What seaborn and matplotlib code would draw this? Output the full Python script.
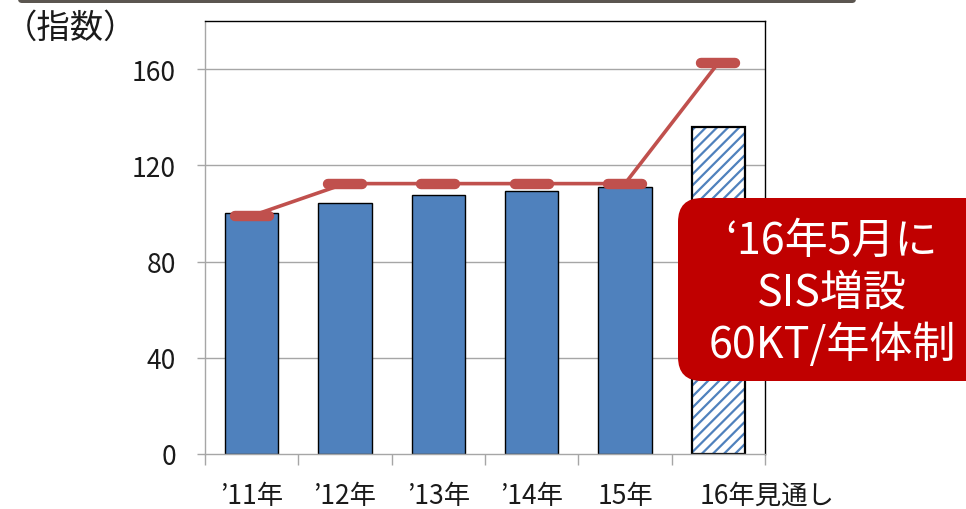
import numpy as np
import pandas as pd
import matplotlib
matplotlib.use("Agg")
import matplotlib.pyplot as plt
import matplotlib.transforms as mtransforms
from matplotlib.patches import FancyBboxPatch
from matplotlib.markers import MarkerStyle
import seaborn as sns

# data
years = ["\u201911年", "\u201912年", "\u201913年", "\u201914年", "15年", "16年見通し"]
output_index = [100, 104.5, 107.5, 109.5, 111, 136]
capacity_index = [99, 112.4, 112.4, 112.4, 112.4, 162.6]
y_ticks = [0, 40, 80, 120, 160]
note_lines = ["\u201816年5月に", "SIS増設", "60KT/年体制"]

sns.set_theme(style="white")
plt.rcParams["font.family"] = ["Noto Sans CJK JP", "DejaVu Sans"]
plt.rcParams["hatch.linewidth"] = 1.6

blue = "#4F81BD"
red = "#C0504D"
grid_gray = "#A6A6A6"

fig = plt.figure(figsize=(9.66, 5.1), dpi=100)
ax = fig.add_axes([205 / 966, 55 / 510, 560 / 966, 433 / 510])

df = pd.DataFrame({"year": years, "value": output_index})
sns.barplot(data=df, x="year", y="value", color=blue, width=0.57,
            edgecolor="black", linewidth=1.0, saturation=1, ax=ax, zorder=3)

# forecast bar: hatched
last = ax.patches[-1]
last.set_facecolor("white")
last.set_edgecolor(blue)
last.set_hatch("///")
last.set_linewidth(0)
ax.add_patch(plt.Rectangle(last.get_xy(), last.get_width(), last.get_height(),
                           fill=False, edgecolor="black", linewidth=1.6, zorder=4))

# capacity line with dash markers
dash = MarkerStyle("_", capstyle="round")
sns.lineplot(x=np.arange(len(years)), y=capacity_index, color=red, linewidth=2.6,
             marker=dash, markersize=24, markeredgewidth=7.5, markeredgecolor=red,
             ax=ax, zorder=5)

ax.set_xlim(-0.5, len(years) - 0.5)
ax.set_ylim(0, 180)
ax.set_yticks(y_ticks)
ax.set_yticklabels([str(v) for v in y_ticks], fontsize=19, color="#1a1a1a")
ax.set_xlabel("")
ax.set_ylabel("")

for v in y_ticks[1:]:
    ax.axhline(v, color=grid_gray, linewidth=1.0, zorder=1)

ax.tick_params(axis="y", which="major", left=True, length=6, width=1.0,
               color=grid_gray, pad=15)
ax.set_xticks(np.arange(len(years)))
ax.set_xticklabels(years, fontsize=19, color="#1a1a1a")
ax.tick_params(axis="x", which="major", bottom=False, pad=14)
ax.set_xticks(np.arange(-0.5, len(years)), minor=True)
ax.tick_params(axis="x", which="minor", bottom=True, length=8, width=1.0,
               color=grid_gray)

# last label sits right of its slot in the reference
lbl = ax.get_xticklabels()[-1]
lbl.set_transform(lbl.get_transform() +
                  mtransforms.ScaledTranslation(0.49, 0, fig.dpi_scale_trans))

for side in ["left", "bottom"]:
    ax.spines[side].set_color(grid_gray)
    ax.spines[side].set_linewidth(1.0)
for side in ["top", "right"]:
    ax.spines[side].set_color("black")
    ax.spines[side].set_linewidth(1.0)
ax.spines["bottom"].set_zorder(6)

# unit label
fig.text(4 / 966, 1 - 28 / 510, "（指数）", fontsize=24, ha="left", va="center",
         color="#1a1a1a")

# top band (cropped frame of slide)
fig.patches.append(FancyBboxPatch((18, 506), 838, 12,
                                  boxstyle="round,pad=0,rounding_size=4",
                                  transform=mtransforms.IdentityTransform(),
                                  facecolor="#5b5650", edgecolor="none",
                                  figure=fig))

# red callout box
fig.patches.append(FancyBboxPatch((678, 128), 330, 183,
                                  boxstyle="round,pad=0,rounding_size=24",
                                  transform=mtransforms.IdentityTransform(),
                                  facecolor="#C00000", edgecolor="none",
                                  figure=fig, zorder=10))
for i, line in enumerate(note_lines):
    fig.text(832 / 966, 1 - (242 + 52 * i) / 510, line, fontsize=31,
             color="white", ha="center", va="center", zorder=11)

fig.savefig("out.png", dpi=100)
